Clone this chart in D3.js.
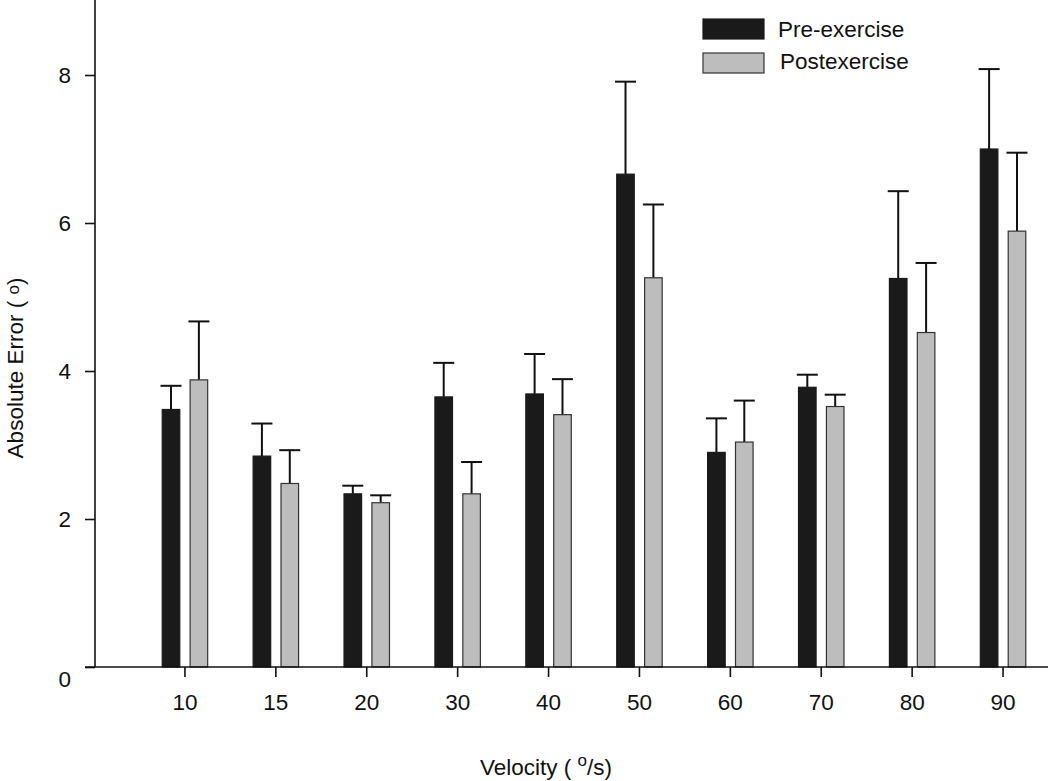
<!DOCTYPE html>
<html>
<head>
<meta charset="utf-8">
<script src="https://cdn.jsdelivr.net/npm/d3@7"></script>
<style>
  html, body { margin: 0; padding: 0; background: #fff; }
  svg { display: block; }
  text { font-family: "Liberation Sans", Arial, sans-serif; fill: #111; }
</style>
</head>
<body>
<svg id="chart" width="1050" height="781"></svg>
<script>
const categories = ["10", "15", "20", "30", "40", "50", "60", "70", "80", "90"];
const seriesNames = ["Pre-exercise", "Postexercise"];
const preValues  = [3.48, 2.85, 2.34, 3.65, 3.69, 6.66, 2.90, 3.78, 5.25, 7.00];
const preErrors  = [0.32, 0.44, 0.11, 0.46, 0.54, 1.25, 0.46, 0.17, 1.18, 1.08];
const postValues = [3.88, 2.48, 2.22, 2.34, 3.41, 5.26, 3.04, 3.52, 4.52, 5.89];
const postErrors = [0.79, 0.45, 0.10, 0.43, 0.48, 0.99, 0.56, 0.16, 0.94, 1.06];
const yTicks = [0, 2, 4, 6, 8];

const svg = d3.select("#chart");
const axisX = 95, baseY = 667;
const FS = 22.5;

const y = d3.scaleLinear().domain([0, 9]).range([baseY, 1]);
const x = d3.scaleBand().domain(categories).range([139.5, 1048.5])
  .paddingInner(0.5).paddingOuter(0.25);
const xs = d3.scaleBand().domain(["pre", "post"]).range([0, x.bandwidth()])
  .paddingInner(0.37).paddingOuter(0);

const data = [];
categories.forEach((c, i) => {
  data.push({cat: c, s: "pre", v: preValues[i], e: preErrors[i]});
  data.push({cat: c, s: "post", v: postValues[i], e: postErrors[i]});
});

// Error bars (behind bars)
const eb = svg.append("g").attr("stroke", "#111").attr("stroke-width", 2);
data.forEach(d => {
  const cx = x(d.cat) + xs(d.s) + xs.bandwidth() / 2;
  eb.append("line").attr("x1", cx).attr("x2", cx)
    .attr("y1", y(d.v)).attr("y2", y(d.v + d.e));
  eb.append("line").attr("x1", cx - 10.5).attr("x2", cx + 10.5)
    .attr("y1", y(d.v + d.e)).attr("y2", y(d.v + d.e));
});

// Bars
svg.append("g").selectAll("rect").data(data).join("rect")
  .attr("x", d => x(d.cat) + xs(d.s))
  .attr("width", xs.bandwidth())
  .attr("y", d => y(d.v))
  .attr("height", d => y(0) - y(d.v))
  .attr("fill", d => d.s === "pre" ? "#1a1a1a" : "#bdbdbd")
  .attr("stroke", d => d.s === "pre" ? "#1a1a1a" : "#333")
  .attr("stroke-width", 1.2);

// Y axis
const yAxis = svg.append("g").attr("transform", `translate(${axisX},0)`)
  .call(d3.axisLeft(y).tickValues(yTicks).tickSize(10).tickPadding(14).tickFormat(d3.format("d")));
yAxis.select(".domain").remove();
yAxis.append("line").attr("x1", 0).attr("x2", 0).attr("y1", 0).attr("y2", baseY)
  .attr("stroke", "#111").attr("stroke-width", 1.6);
yAxis.selectAll(".tick line").attr("stroke", "#111").attr("stroke-width", 1.6);
yAxis.selectAll(".tick text").attr("font-size", FS).attr("fill", "#111")
  .attr("font-family", "Liberation Sans, Arial, sans-serif");
yAxis.selectAll(".tick").filter(d => d === 0).select("text").attr("dy", "0.85em");

// X axis
const xAxis = svg.append("g").attr("transform", `translate(0,${baseY})`)
  .call(d3.axisBottom(x).tickSize(10).tickPadding(17));
xAxis.select(".domain").remove();
xAxis.append("line").attr("x1", 85).attr("x2", 1048).attr("y1", 0).attr("y2", 0)
  .attr("stroke", "#111").attr("stroke-width", 1.6);
xAxis.selectAll(".tick line").attr("stroke", "#111").attr("stroke-width", 1.6);
xAxis.selectAll(".tick text").attr("font-size", FS).attr("fill", "#111")
  .attr("font-family", "Liberation Sans, Arial, sans-serif");

// Axis titles
const yt = svg.append("text")
  .attr("transform", "translate(23,368) rotate(-90)")
  .attr("text-anchor", "middle").attr("font-size", FS);
yt.append("tspan").text("Absolute Error ( ");
yt.append("tspan").attr("dy", -4).attr("font-size", 17).text("o");
yt.append("tspan").attr("dy", 4).text(")");

const xt = svg.append("text").attr("x", 546).attr("y", 775)
  .attr("text-anchor", "middle").attr("font-size", FS);
xt.append("tspan").text("Velocity ( ");
xt.append("tspan").attr("dy", -9).attr("font-size", 17).text("o");
xt.append("tspan").attr("dy", 9).text("/s)");

// Legend
const legend = svg.append("g");
seriesNames.forEach((n, i) => {
  legend.append("rect").attr("x", 703).attr("y", 19 + i * 34).attr("width", 61).attr("height", 20)
    .attr("fill", i === 0 ? "#1a1a1a" : "#bdbdbd")
    .attr("stroke", i === 0 ? "#1a1a1a" : "#333").attr("stroke-width", 1.2);
  legend.append("text").attr("x", 778 + i * 2).attr("y", 37 + i * 32)
    .attr("font-size", FS).text(n);
});
</script>
</body>
</html>
